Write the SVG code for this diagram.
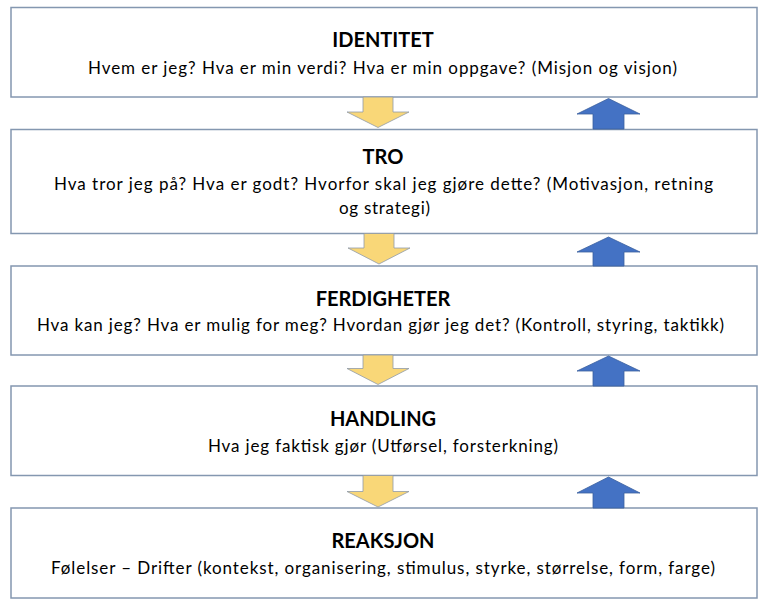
<svg xmlns="http://www.w3.org/2000/svg" width="768" height="607" viewBox="0 0 768 607">
<style>
.box{fill:#fff;stroke:#8497b0;stroke-width:1.5}
.t{font-family:Lato,"Liberation Sans",sans-serif;font-weight:bold;font-size:20px;fill:#000;text-anchor:middle}
.s{font-family:Lato,"Liberation Sans",sans-serif;font-size:17px;fill:#000;text-anchor:start}
.down{fill:#f9d778;stroke:#8f9aa8;stroke-width:0.8}
.up{fill:#4472c4;stroke:#3a5f9e;stroke-width:0.8}
</style>
<rect width="768" height="607" fill="#fff"/>
<g id="identitet">
<rect class="box" x="11" y="7.5" width="746" height="89.5"/>
<text class="t" x="383" y="47">IDENTITET</text>
<text class="s" x="88" y="73.5" textLength="589" lengthAdjust="spacing">Hvem er jeg? Hva er min verdi? Hva er min oppgave? (Misjon og visjon)</text>
</g>
<g id="tro">
<rect class="box" x="11" y="129.5" width="746" height="104"/>
<text class="t" x="383" y="163.5">TRO</text>
<text class="s" x="54" y="190" textLength="659" lengthAdjust="spacing">Hva tror jeg på? Hva er godt? Hvorfor skal jeg gjøre dette? (Motivasjon, retning</text>
<text class="s" x="339" y="214" textLength="91" lengthAdjust="spacing">og strategi)</text>
</g>
<g id="ferdigheter">
<rect class="box" x="11" y="266" width="746" height="89"/>
<text class="t" x="383" y="305.5">FERDIGHETER</text>
<text class="s" x="37" y="331" textLength="687" lengthAdjust="spacing">Hva kan jeg? Hva er mulig for meg? Hvordan gjør jeg det? (Kontroll, styring, taktikk)</text>
</g>
<g id="handling">
<rect class="box" x="11" y="386" width="746" height="89.5"/>
<text class="t" x="383" y="426">HANDLING</text>
<text class="s" x="208" y="451.5" textLength="350" lengthAdjust="spacing">Hva jeg faktisk gjør (Utførsel, forsterkning)</text>
</g>
<g id="reaksjon">
<rect class="box" x="11" y="508" width="746" height="90"/>
<text class="t" x="383" y="548">REAKSJON</text>
<text class="s" x="51" y="574" textLength="664" lengthAdjust="spacing">Følelser – Drifter (kontekst, organisering, stimulus, styrke, størrelse, form, farge)</text>
</g>
<g id="connectors">
<path class="down" d="M363,97 H393 V112 H409 L378,127.5 L347,112 H363 Z"/>
<path class="up" d="M593,129 V114 H577 L608.5,98.5 L640,114 H624 V129 Z"/>
<path class="down" d="M364,233.5 H394 V248 H410 L379,264 L348,248 H364 Z"/>
<path class="up" d="M593,266 V252 H577 L608.5,237 L640,252 H624 V266 Z"/>
<path class="down" d="M363,355 H393 V368.5 H409 L378,384.5 L347,368.5 H363 Z"/>
<path class="up" d="M593,386 V371 H577 L608.5,356 L640,371 H624 V386 Z"/>
<path class="down" d="M363,475.5 H393 V491.5 H409 L378,507 L347,491.5 H363 Z"/>
<path class="up" d="M593,508 V493 H577 L608.5,477 L640,493 H624 V508 Z"/>
</g>
</svg>
